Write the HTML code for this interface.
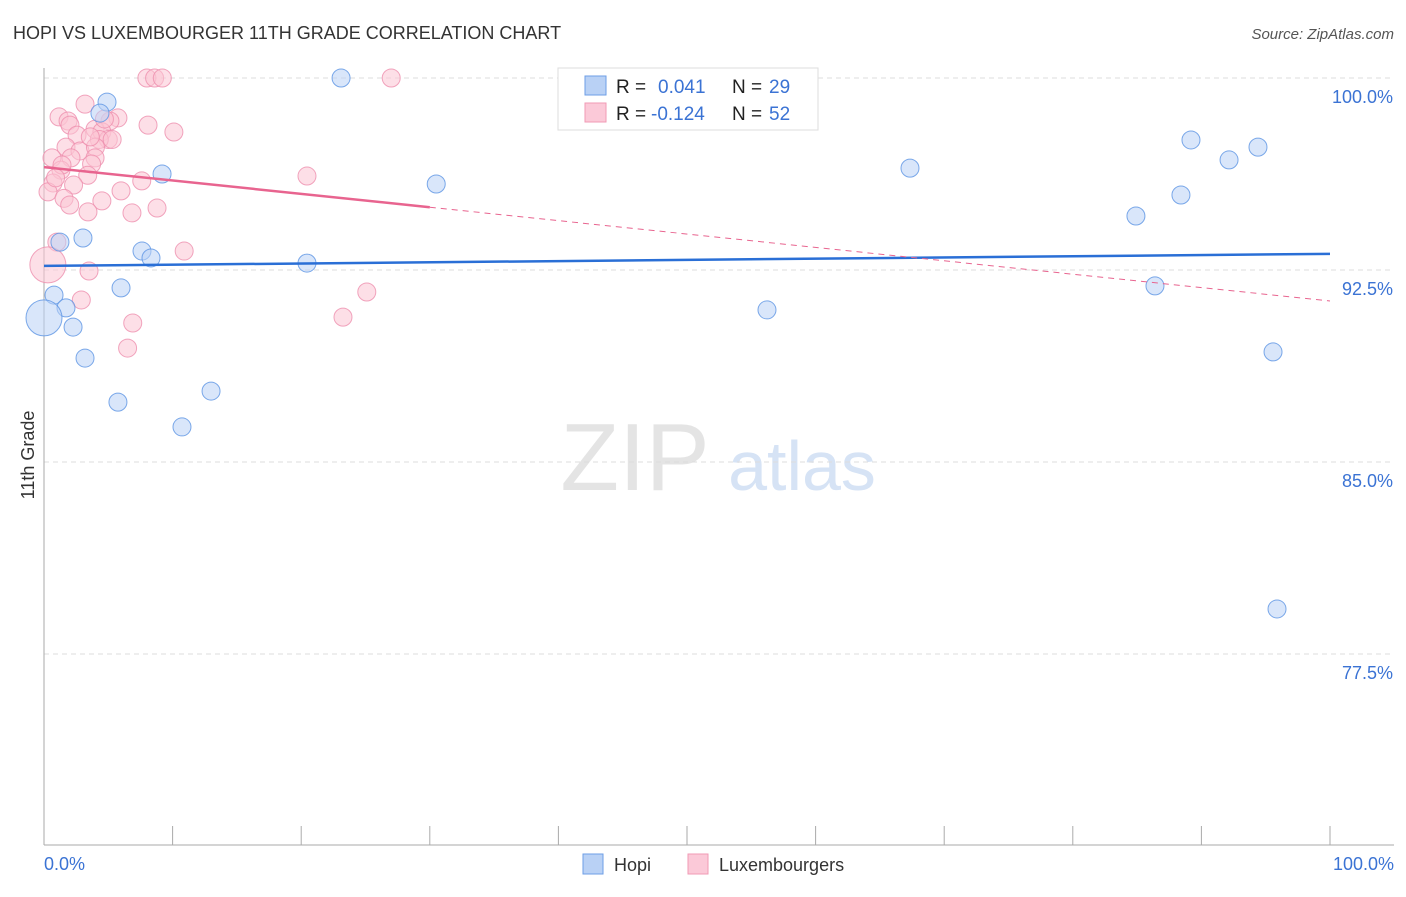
<!DOCTYPE html>
<html><head><meta charset="utf-8"><style>
body{margin:0;background:#fff;font-family:"Liberation Sans",sans-serif;}
svg text{font-family:"Liberation Sans",sans-serif;}
</style></head><body>
<svg id="chart" width="1406" height="892" xmlns="http://www.w3.org/2000/svg">
<text x="13" y="39" font-size="18" fill="#333">HOPI VS LUXEMBOURGER 11TH GRADE CORRELATION CHART</text>
<text x="1394" y="39" font-size="15" fill="#555" text-anchor="end" font-style="italic">Source: ZipAtlas.com</text>
<g>
<text x="635" y="490" font-size="96" fill="#e4e4e4" text-anchor="middle" font-family="Liberation Serif, serif">ZIP</text>
<text x="802" y="490" font-size="70" fill="#d6e3f5" text-anchor="middle">atlas</text>
</g>
<g id="grid"></g>
<g id="axes"></g>
<g id="marks"></g>
<text transform="translate(34,455) rotate(-90)" font-size="18" fill="#333" text-anchor="middle">11th Grade</text>
<text x="44" y="870" font-size="18" fill="#3b73d4">0.0%</text>
<text x="1394" y="870" font-size="18" fill="#3b73d4" text-anchor="end">100.0%</text>
<g>
<rect x="558" y="68" width="260" height="62" fill="#fff" stroke="#ddd"/>
<rect x="585" y="76" width="21" height="19" fill="#b9d1f5" stroke="#6d9ee6"/>
<rect x="585" y="103" width="21" height="19" fill="#fbc9d8" stroke="#f09ab5"/>
<text x="616" y="93" font-size="19" fill="#222">R = </text><text x="658" y="93" font-size="19" fill="#3b73d4">0.041</text>
<text x="732" y="93" font-size="19" fill="#222">N = </text><text x="769" y="93" font-size="19" fill="#3b73d4">29</text>
<text x="616" y="120" font-size="19" fill="#222">R = </text><text x="651" y="120" font-size="19" fill="#3b73d4">-0.124</text>
<text x="732" y="120" font-size="19" fill="#222">N = </text><text x="769" y="120" font-size="19" fill="#3b73d4">52</text>
</g>
<g>
<rect x="583" y="854" width="20" height="20" fill="#b9d1f5" stroke="#6d9ee6"/>
<text x="614" y="871" font-size="18" fill="#333">Hopi</text>
<rect x="688" y="854" width="20" height="20" fill="#fbc9d8" stroke="#f09ab5"/>
<text x="719" y="871" font-size="18" fill="#333">Luxembourgers</text>
</g>
</svg>
<script>
const yTicks=[100,92.5,85,77.5];
const yTickLabels=["100.0%","92.5%","85.0%","77.5%"];
const hopiX=[23.1,4.9,4.35,9.18,30.5,3.03,1.24,7.62,8.32,20.45,0.78,5.99,1.71,0,2.26,3.19,5.75,12.99,10.73,67.34,56.22,89.19,92.15,94.4,84.91,88.41,86.39,95.57,95.88];
const hopiY=[100,99.06,98.63,96.25,95.86,93.75,93.59,93.24,92.97,92.77,91.52,91.8,91.02,90.63,90.27,89.06,87.34,87.77,86.37,96.48,90.94,97.58,96.8,97.3,94.61,95.43,91.88,89.3,79.26];
const luxX=[8.0,8.6,9.2,27.0,3.19,1.17,1.87,2.02,5.75,5.13,8.09,10.1,2.57,3.97,4.5,5.0,4.3,1.71,2.8,4.0,0.62,2.1,3.97,3.7,1.32,3.4,7.6,20.45,0.7,2.3,0.31,5.99,1.56,2.0,4.5,3.42,6.84,8.79,1.0,10.9,3.5,0.3,2.9,25.1,23.25,6.9,6.5,1.4,4.7,3.6,5.3,0.9];
const luxY=[100,100,100,100,98.98,98.48,98.32,98.16,98.44,98.32,98.16,97.89,97.77,98.0,97.9,97.6,97.6,97.3,97.15,97.3,96.88,96.88,96.88,96.64,96.4,96.2,95.98,96.17,95.9,95.82,95.55,95.59,95.3,95.04,95.2,94.77,94.73,94.92,93.59,93.24,92.46,92.7,91.33,91.64,90.66,90.43,89.45,96.6,98.4,97.7,97.6,96.1];
const hopiTrend=[92.66,93.13];
const luxTrend=[96.52,91.29];
const sx=v=>44+v/100*1286;
const sy=v=>78+(100-v)/7.5*192;
const NS="http://www.w3.org/2000/svg";
function mk(t,a,p){const e=document.createElementNS(NS,t);for(const k in a)e.setAttribute(k,a[k]);p.appendChild(e);return e;}
const grid=document.getElementById('grid'),axes=document.getElementById('axes'),marks=document.getElementById('marks');
yTicks.forEach((t,i)=>{
 const l=mk('line',{x1:44,x2:1394,y1:sy(t),y2:sy(t),stroke:'#ddd','stroke-dasharray':'5,4'},grid);
 
 
 const tx=mk('text',{x:1393,y:sy(t)+25,'font-size':18,fill:'#3b73d4','text-anchor':'end'},axes);
 tx.textContent=yTickLabels[i];
 
 
});
mk('line',{x1:44,x2:44,y1:68,y2:845,stroke:'#aaa'},axes);
mk('line',{x1:44,x2:1394,y1:845,y2:845,stroke:'#aaa'},axes);
for(let i=0;i<=10;i++){const t=mk('line',{x1:sx(i*10),x2:sx(i*10),y1:826,y2:845,stroke:'#aaa'},axes);
 
 }
function pts(X,Y,fill,stroke,name){X.forEach((x,i)=>{
 const big=(x<0.5&&(Y[i]<91||(Y[i]>92.5&&Y[i]<93)));
 const c=mk('circle',{cx:sx(x),cy:sy(Y[i]),r:big?18:9,fill:fill,'fill-opacity':0.55,stroke:stroke,'stroke-opacity':0.8,'stroke-width':1},marks);
 
 });}
pts(luxX,luxY,'#fbc4d4','#ee8fae','luxembourger-point');
pts(hopiX,hopiY,'#b9d1f5','#5b93e3','hopi-point');
const ht=mk('line',{x1:sx(0),y1:sy(hopiTrend[0]),x2:sx(100),y2:sy(hopiTrend[1]),stroke:'#2a6fd6','stroke-width':2.5},marks);


const lyAt=x=>luxTrend[0]+(luxTrend[1]-luxTrend[0])*x/100;
const lt=mk('line',{x1:sx(0),y1:sy(lyAt(0)),x2:sx(30),y2:sy(lyAt(30)),stroke:'#e8648f','stroke-width':2.5},marks);


const ld=mk('line',{x1:sx(30),y1:sy(lyAt(30)),x2:sx(100),y2:sy(lyAt(100)),stroke:'#e8648f','stroke-width':1,'stroke-dasharray':'6,5'},marks);


</script>
</body></html>
